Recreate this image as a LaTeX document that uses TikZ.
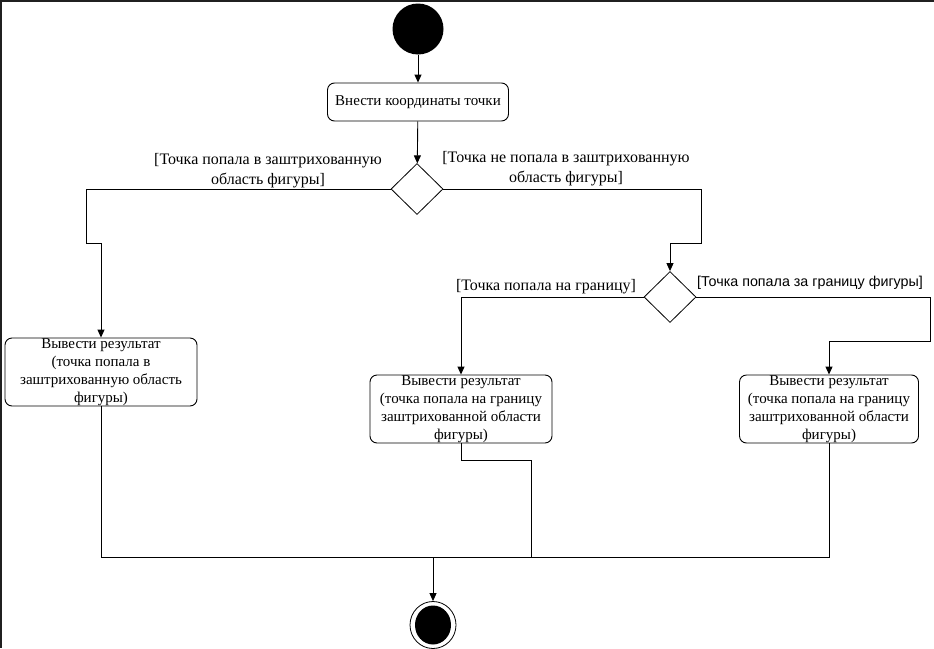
\documentclass[tikz,border=0pt]{standalone}
\usepackage{fontspec}
\setmainfont{Liberation Serif}
\newfontfamily\guardsans{Liberation Sans}
\usepackage{tikz}
\usetikzlibrary{arrows.meta,shapes.geometric}
\definecolor{frame}{HTML}{202020}
\tikzset{
  line/.style={draw=black, line width=0.9pt},
  flow/.style={line, -{Triangle[length=8pt,width=7pt]}},
  action/.style={draw=black, line width=0.9pt, rounded corners=7pt, align=center,
    inner sep=0pt, font=\fontsize{15}{18}\selectfont},
  decision/.style={diamond, draw=black, line width=0.8pt, inner sep=0pt,
    minimum width=52pt, minimum height=51pt},
  initial/.style={circle, fill=black, inner sep=0pt, minimum size=51pt},
  guard/.style={align=center, inner sep=0pt, font=\fontsize{16}{20}\selectfont}
}
\begin{document}
\begin{tikzpicture}[x=1pt,y=-1pt]
  \useasboundingbox (0,0) rectangle (934,648);
  % screenshot frame
  \draw[frame, line width=2.5pt] (0,1.2) -- (934,1.2);
  \draw[frame, line width=2.5pt] (1.2,0) -- (1.2,648);

  % nodes
  \node[initial] (start) at (418,29) {};
  \node[action, minimum width=181pt, minimum height=38pt] (enter) at (418,102)
    {Внести координаты точки};
  \node[decision] (dec1) at (417,189) {};
  \node[decision] (dec2) at (670,297) {};
  \node[action, minimum width=192pt, minimum height=68pt] (resA) at (101,372)
    {Вывести результат\\(точка попала в\\заштрихованную область\\фигуры)};
  \node[action, minimum width=182pt, minimum height=68pt] (resB) at (461,409)
    {Вывести результат\\(точка попала на границу\\заштрихованной области\\фигуры)};
  \node[action, minimum width=179pt, minimum height=68pt] (resC) at (829,409)
    {Вывести результат\\(точка попала на границу\\заштрихованной области\\фигуры)};
  \node[ellipse, draw=black, line width=0.8pt, inner sep=0pt,
    minimum width=46pt, minimum height=47pt] (final) at (433,625) {};
  \node[ellipse, fill=black, inner sep=0pt,
    minimum width=36pt, minimum height=39pt] (finaldot) at (final) {};

  % bends
  \coordinate (l1) at (86,243);
  \coordinate (r1) at (701,243);
  \coordinate (r2) at (930,341);
  \coordinate (b1) at (531,460);
  \coordinate (join) at (433,557);

  % flows
  \draw[flow] (start) -- (enter);
  \draw[flow] (enter) -- (dec1);
  \draw[flow] (dec1.west) -| (l1) -| (resA.north);
  \draw[flow] (dec1.east) -| (r1) -| (dec2.north);
  \draw[flow] (dec2.west) -| (resB.north);
  \draw[flow] (dec2.east) -| (r2) -| (resC.north);
  \draw[line] (resA.south) |- (join);
  \draw[line] (resC.south) |- (join);
  \draw[line] (resB.south) |- (b1) |- (join);
  \draw[flow] (join) -- (final.north);

  % guards
  \node[guard] (g1) at (268,171) {[Точка попала в заштрихованную\\область фигуры]};
  \node[guard] (g2) at (566,169) {[Точка не попала в заштрихованную\\область фигуры]};
  \node[guard] (g3) at (546,287) {[Точка попала на границу]};
  \node[guard, font=\guardsans\fontsize{14.3}{16}\selectfont] (g4) at (810,283)
    {[Точка попала за границу фигуры]};
\end{tikzpicture}
\end{document}
